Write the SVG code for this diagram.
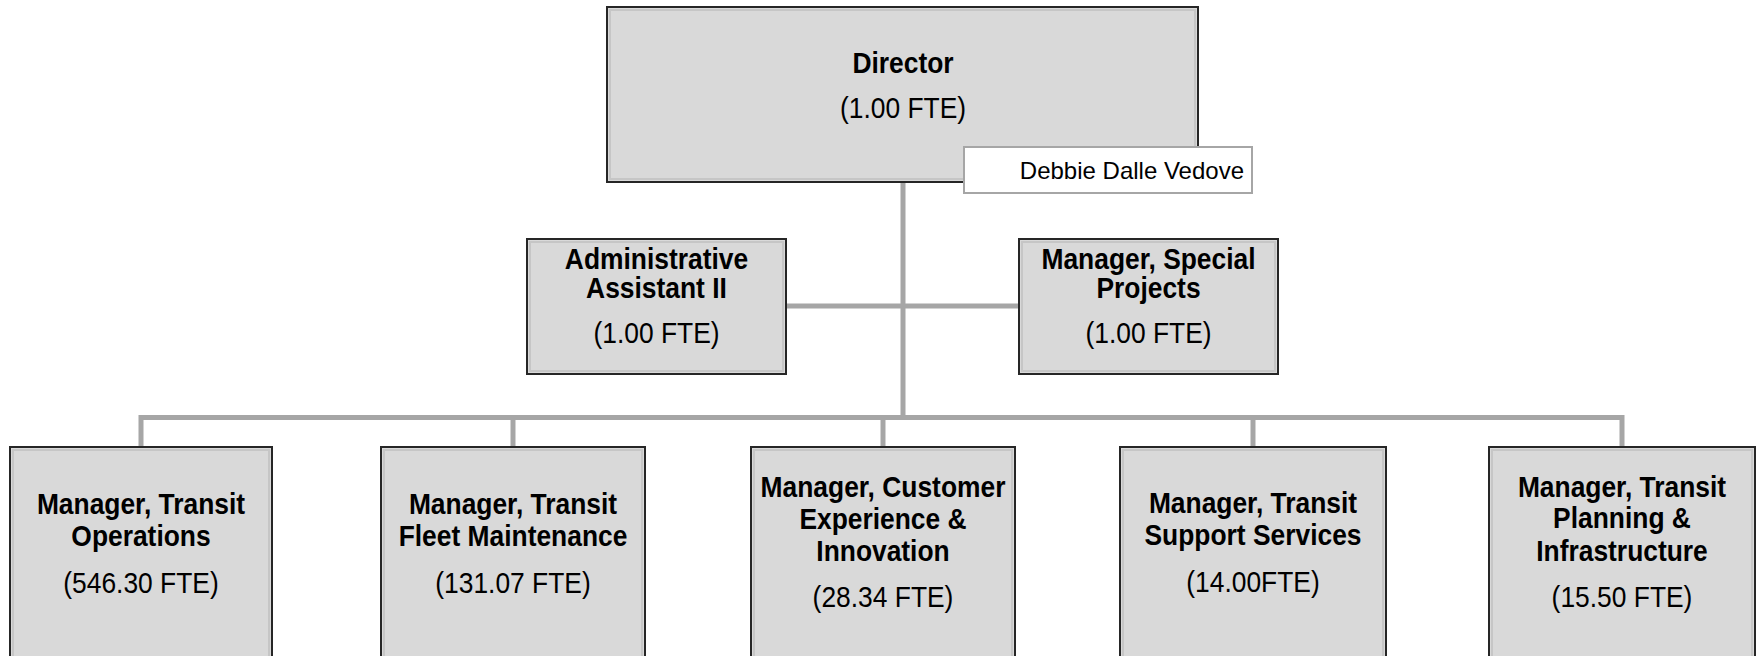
<svg xmlns="http://www.w3.org/2000/svg" width="1756" height="656" viewBox="0 0 1756 656">
<style>
.box{fill:#d9d9d9;stroke:#262626;stroke-width:2}
.bev{fill:none;stroke:#c6c6c6;stroke-width:2}
.conn{stroke:#a6a6a6;stroke-width:5;fill:none}
text{font-family:"Liberation Sans",Arial,sans-serif;font-size:29px;fill:#000;text-anchor:middle}
.b{font-weight:bold}
.name{font-size:24px;text-anchor:end}
</style>
<rect width="1756" height="656" fill="#fff"/>
<g id="connectors">
<line class="conn" x1="903" y1="182" x2="903" y2="420"/>
<line class="conn" x1="786" y1="306" x2="1019" y2="306"/>
<polyline class="conn" points="141,447 141,417.5 1622,417.5 1622,447"/>
<line class="conn" x1="513" y1="417.5" x2="513" y2="447"/>
<line class="conn" x1="883" y1="417.5" x2="883" y2="447"/>
<line class="conn" x1="1253" y1="417.5" x2="1253" y2="447"/>
</g>
<g id="director">
<rect class="box" x="607" y="7" width="591" height="175"/>
<rect class="bev" x="610" y="10" width="585" height="169"/>
<g transform="translate(903 0) scale(0.91 1)"><text class="b" x="0" y="73">Director</text><text x="0" y="118">(1.00 FTE)</text></g>
</g>
<g id="director-name">
<rect x="964" y="147" width="288" height="46" fill="#fff" stroke="#a6a6a6" stroke-width="2"/>
<text class="name" x="1244" y="179">Debbie Dalle Vedove</text>
</g>
<g id="admin-assistant">
<rect class="box" x="527" y="239" width="259" height="135"/>
<rect class="bev" x="530" y="242" width="253" height="129"/>
<g transform="translate(656.5 0) scale(0.91 1)"><text class="b" x="0" y="269">Administrative</text><text class="b" x="0" y="298">Assistant II</text><text x="0" y="343">(1.00 FTE)</text></g>
</g>
<g id="special-projects">
<rect class="box" x="1019" y="239" width="259" height="135"/>
<rect class="bev" x="1022" y="242" width="253" height="129"/>
<g transform="translate(1148.5 0) scale(0.91 1)"><text class="b" x="0" y="269">Manager, Special</text><text class="b" x="0" y="298">Projects</text><text x="0" y="343">(1.00 FTE)</text></g>
</g>
<g id="transit-operations">
<rect class="box" x="10" y="447" width="262" height="230"/>
<rect class="bev" x="13" y="450" width="256" height="230"/>
<g transform="translate(141 0) scale(0.91 1)"><text class="b" x="0" y="514">Manager, Transit</text><text class="b" x="0" y="546">Operations</text><text x="0" y="593">(546.30 FTE)</text></g>
</g>
<g id="fleet-maintenance">
<rect class="box" x="381" y="447" width="264" height="230"/>
<rect class="bev" x="384" y="450" width="258" height="230"/>
<g transform="translate(513 0) scale(0.91 1)"><text class="b" x="0" y="514">Manager, Transit</text><text class="b" x="0" y="546">Fleet Maintenance</text><text x="0" y="593">(131.07 FTE)</text></g>
</g>
<g id="customer-experience">
<rect class="box" x="751" y="447" width="264" height="230"/>
<rect class="bev" x="754" y="450" width="258" height="230"/>
<g transform="translate(883 0) scale(0.91 1)"><text class="b" x="0" y="497">Manager, Customer</text><text class="b" x="0" y="529">Experience &amp;</text><text class="b" x="0" y="561">Innovation</text><text x="0" y="607">(28.34 FTE)</text></g>
</g>
<g id="support-services">
<rect class="box" x="1120" y="447" width="266" height="230"/>
<rect class="bev" x="1123" y="450" width="260" height="230"/>
<g transform="translate(1253 0) scale(0.91 1)"><text class="b" x="0" y="513">Manager, Transit</text><text class="b" x="0" y="545">Support Services</text><text x="0" y="592">(14.00FTE)</text></g>
</g>
<g id="planning-infrastructure">
<rect class="box" x="1489" y="447" width="266" height="230"/>
<rect class="bev" x="1492" y="450" width="260" height="230"/>
<g transform="translate(1622 0) scale(0.91 1)"><text class="b" x="0" y="497">Manager, Transit</text><text class="b" x="0" y="528">Planning &amp;</text><text class="b" x="0" y="561">Infrastructure</text><text x="0" y="607">(15.50 FTE)</text></g>
</g>
</svg>
